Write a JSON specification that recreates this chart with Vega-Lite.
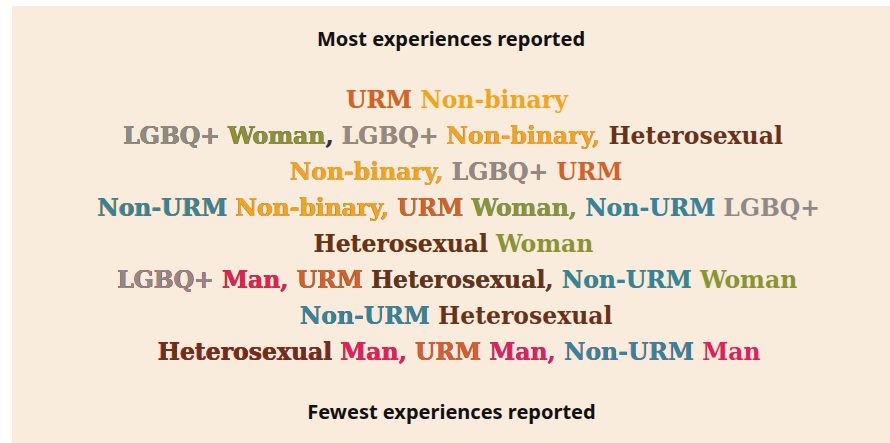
{
  "$schema": "https://vega.github.io/schema/vega-lite/v6.json",
  "width": 890,
  "height": 443,
  "autosize": {"type": "fit", "contains": "padding"},
  "padding": {"left": 12, "top": 6, "right": 0, "bottom": 0},
  "background": "#ffffff",
  "config": {"view": {"fill": "#f9ecdd", "stroke": null}},
  "title": {
    "text": "Most experiences reported",
    "font": "Noto Sans",
    "fontSize": 20,
    "fontWeight": "bold",
    "color": "#111111",
    "anchor": "middle",
    "frame": "group",
    "orient": "top",
    "offset": -60,
    "baseline": "alphabetic"
  },
  "data": {
    "values": [
      {"rank": 1, "seg": 1, "text": "URM", "group": "URM"},
      {"rank": 1, "seg": 2, "text": " Non-binary", "group": "Non-binary"},
      {"rank": 2, "seg": 1, "text": "LGBQ+", "group": "LGBQ+"},
      {"rank": 2, "seg": 2, "text": " Woman", "group": "Woman"},
      {"rank": 2, "seg": 3, "text": ",", "group": "comma"},
      {"rank": 2, "seg": 4, "text": " LGBQ+", "group": "LGBQ+"},
      {"rank": 2, "seg": 5, "text": " Non-binary,", "group": "Non-binary"},
      {"rank": 2, "seg": 6, "text": " Heterosexual", "group": "Heterosexual"},
      {"rank": 3, "seg": 1, "text": "Non-binary,", "group": "Non-binary"},
      {"rank": 3, "seg": 2, "text": " LGBQ+", "group": "LGBQ+"},
      {"rank": 3, "seg": 3, "text": " URM", "group": "URM"},
      {"rank": 4, "seg": 1, "text": "Non-URM", "group": "Non-URM"},
      {"rank": 4, "seg": 2, "text": " Non-binary,", "group": "Non-binary"},
      {"rank": 4, "seg": 3, "text": " URM", "group": "URM"},
      {"rank": 4, "seg": 4, "text": " Woman,", "group": "Woman"},
      {"rank": 4, "seg": 5, "text": " Non-URM", "group": "Non-URM"},
      {"rank": 4, "seg": 6, "text": " LGBQ+", "group": "LGBQ+"},
      {"rank": 5, "seg": 1, "text": "Heterosexual", "group": "Heterosexual"},
      {"rank": 5, "seg": 2, "text": " Woman", "group": "Woman"},
      {"rank": 6, "seg": 1, "text": "LGBQ+", "group": "LGBQ+"},
      {"rank": 6, "seg": 2, "text": " Man,", "group": "Man"},
      {"rank": 6, "seg": 3, "text": " URM", "group": "URM"},
      {"rank": 6, "seg": 4, "text": " Heterosexual,", "group": "Heterosexual"},
      {"rank": 6, "seg": 5, "text": " Non-URM", "group": "Non-URM"},
      {"rank": 6, "seg": 6, "text": " Woman", "group": "Woman"},
      {"rank": 7, "seg": 1, "text": "Non-URM", "group": "Non-URM"},
      {"rank": 7, "seg": 2, "text": " Heterosexual", "group": "Heterosexual"},
      {"rank": 8, "seg": 1, "text": "Heterosexual", "group": "Heterosexual"},
      {"rank": 8, "seg": 2, "text": " Man,", "group": "Man"},
      {"rank": 8, "seg": 3, "text": " URM", "group": "URM"},
      {"rank": 8, "seg": 4, "text": " Man,", "group": "Man"},
      {"rank": 8, "seg": 5, "text": " Non-URM", "group": "Non-URM"},
      {"rank": 8, "seg": 6, "text": " Man", "group": "Man"}
    ]
  },
  "transform": [
    {
      "window": [
        {"op": "lag", "field": "text", "param": 1, "as": "l1"},
        {"op": "lag", "field": "text", "param": 2, "as": "l2"},
        {"op": "lag", "field": "text", "param": 3, "as": "l3"},
        {"op": "lag", "field": "text", "param": 4, "as": "l4"},
        {"op": "lag", "field": "text", "param": 5, "as": "l5"}
      ],
      "groupby": ["rank"],
      "sort": [{"field": "seg", "order": "ascending"}]
    },
    {"calculate": "(datum.l5||'')+(datum.l4||'')+(datum.l3||'')+(datum.l2||'')+(datum.l1||'')+datum.text", "as": "prefix"},
    {"calculate": "22.84*(0.348*(length(datum.prefix)-length(replace(datum.prefix,regexp(' ','g'),''))) + 0.385*(length(datum.prefix)-length(replace(datum.prefix,regexp('[,il]','g'),''))) + 0.415*(length(datum.prefix)-length(replace(datum.prefix,regexp('-','g'),''))) + 0.838*(length(datum.prefix)-length(replace(datum.prefix,regexp('[+]','g'),''))) + 0.48*(length(datum.prefix)-length(replace(datum.prefix,regexp('t','g'),''))) + 0.56*(length(datum.prefix)-length(replace(datum.prefix,regexp('r','g'),''))) + 0.59*(length(datum.prefix)-length(replace(datum.prefix,regexp('s','g'),''))) + 0.67*(length(datum.prefix)-length(replace(datum.prefix,regexp('[aexy]','g'),''))) + 0.73*(length(datum.prefix)-length(replace(datum.prefix,regexp('[bnou]','g'),''))) + 1.06*(length(datum.prefix)-length(replace(datum.prefix,regexp('m','g'),''))) + 0.76*(length(datum.prefix)-length(replace(datum.prefix,regexp('L','g'),''))) + 0.86*(length(datum.prefix)-length(replace(datum.prefix,regexp('[BGQRUN]','g'),''))) + 0.96*(length(datum.prefix)-length(replace(datum.prefix,regexp('H','g'),''))) + 1.09*(length(datum.prefix)-length(replace(datum.prefix,regexp('M','g'),''))) + 1.16*(length(datum.prefix)-length(replace(datum.prefix,regexp('W','g'),''))))", "as": "w"},
    {"joinaggregate": [{"op": "max", "field": "w", "as": "lineWidth"}], "groupby": ["rank"]},
    {"calculate": "-datum.lineWidth/2", "as": "start"}
  ],
  "mark": {
    "type": "text",
    "align": "left",
    "baseline": "alphabetic",
    "font": "DejaVu Serif",
    "fontWeight": "bold",
    "fontSize": 23.5
  },
  "encoding": {
    "x": {
      "field": "start",
      "type": "quantitative",
      "scale": {"domain": [-444, 434], "nice": false, "zero": false},
      "axis": {
        "title": "Fewest experiences reported",
        "labels": false,
        "ticks": false,
        "domain": false,
        "grid": false,
        "titleFont": "Noto Sans",
        "titleFontSize": 20,
        "titleFontWeight": "bold",
        "titleColor": "#111111",
        "titleY": -25,
        "titleBaseline": "alphabetic"
      }
    },
    "y": {
      "field": "rank",
      "type": "quantitative",
      "scale": {"domain": [-1.8333, 10.3056], "reverse": true, "nice": false, "zero": false},
      "axis": null
    },
    "text": {"field": "prefix"},
    "color": {
      "field": "group",
      "type": "nominal",
      "scale": {
        "domain": ["URM", "Non-binary", "LGBQ+", "Woman", "Heterosexual", "Non-URM", "Man", "comma"],
        "range": ["#d2612a", "#f2a51c", "#8e8a87", "#8a9433", "#6a3119", "#34849c", "#e0205a", "#1f3559"]
      },
      "legend": null
    },
    "order": {"field": "seg", "sort": "descending"}
  }
}
